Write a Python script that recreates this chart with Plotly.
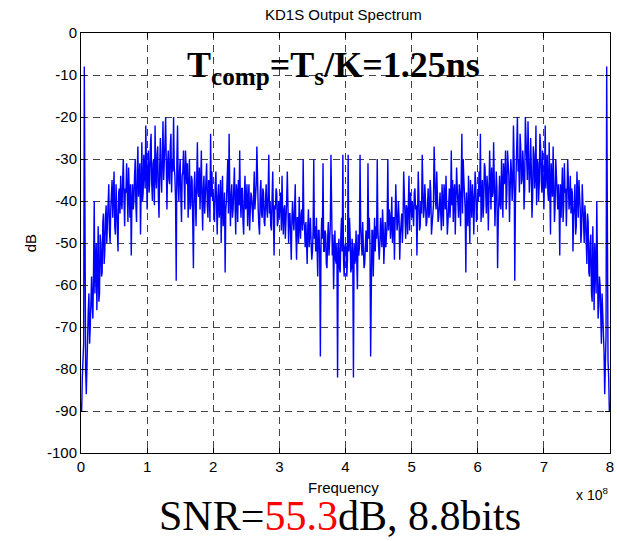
import plotly.graph_objects as go

# Spectrum values (dB), bins spaced 1e6 Hz apart (0 .. 8e8 Hz)
freq_step_hz = 1e6

db_0_to_2 = [
    -88, -90, -82, -78, -74, -8, -72, -80, -86, -76, -72, -66, -62, -74, -70, -60, -58, -65, -68, -56,
    -40, -62, -58, -50, -66, -55, -46, -64, -62, -48, -50, -58, -57, -45, -43, -55, -52, -44, -41, -50,
    -45, -39, -36, -47, -50, -42, -38, -35, -44, -40, -33, -46, -48, -36, -40, -44, -52, -38, -37, -43,
    -34, -40, -42, -35, -30, -39, -46, -37, -38, -31, -41, -45, -32, -38, -44, -36, -53, -40, -36, -42,
    -40, -34, -30, -41, -45, -33, -27, -39, -36, -31, -48, -35, -26, -40, -38, -29, -33, -37, -22, -35,
    -42, -33, -28, -38, -35, -27, -24, -36, -40, -31, -30, -41, -22, -34, -37, -29, -27, -39, -44, -32,
    -25, -34, -38, -29, -21, -35, -32, -26, -20, -37, -42, -31, -28, -35, -36, -27, -24, -38, -30, -33,
    -20, -32, -34, -40, -59, -30, -22, -36, -40, -33, -30, -39, -45, -34, -33, -28, -38, -42, -28, -35,
    -36, -31, -44, -38, -30, -42, -41, -34, -35, -45, -56, -37, -33, -40, -46, -35, -26, -38, -39, -32,
    -42, -36, -28, -40, -47, -37, -34, -43, -38, -32, -31, -41, -44, -35, -36, -45, -24, -39, -33, -40,
]
db_2_to_4 = [
    -38, -43, -45, -36, -33, -41, -48, -39, -36, -44, -42, -35, -50, -40, -34, -46, -44, -38, -57, -42,
    -40, -35, -30, -43, -24, -38, -46, -39, -36, -44, -42, -37, -32, -41, -48, -36, -38, -45, -35, -41,
    -28, -40, -44, -37, -37, -45, -48, -39, -34, -42, -41, -36, -46, -40, -36, -47, -43, -38, -39, -44,
    -45, -39, -33, -42, -40, -36, -27, -41, -42, -46, -48, -38, -35, -43, -44, -37, -38, -45, -46, -40,
    -36, -42, -44, -38, -29, -43, -40, -46, -47, -39, -33, -44, -53, -41, -42, -37, -38, -46, -45, -40,
    -44, -40, -38, -47, -34, -43, -48, -42, -41, -49, -46, -40, -33, -45, -50, -43, -43, -48, -54, -44,
    -40, -45, -47, -42, -36, -48, -54, -44, -44, -50, -39, -46, -49, -43, -42, -47, -30, -45, -46, -51,
    -45, -49, -55, -46, -42, -51, -48, -44, -50, -54, -52, -47, -30, -49, -46, -52, -44, -50, -58, -47,
    -47, -53, -77, -50, -44, -49, -31, -52, -52, -47, -48, -55, -56, -49, -45, -53, -50, -46, -29, -51,
    -53, -48, -61, -52, -47, -54, -55, -50, -82, -53, -49, -56, -57, -48, -44, -52, -29, -54, -58, -51,
]
db_center = [-50]
db_4_to_6 = [
    -51, -58, -54, -29, -52, -44, -48, -57, -56, -49, -53, -82, -50, -55, -54, -47, -52, -61, -48, -53,
    -51, -29, -46, -50, -53, -45, -49, -56, -55, -48, -47, -52, -52, -31, -49, -44, -50, -77, -53, -47,
    -47, -58, -50, -44, -52, -46, -49, -30, -47, -52, -54, -50, -44, -48, -51, -42, -46, -55, -49, -45,
    -51, -46, -45, -30, -47, -42, -43, -49, -46, -39, -50, -44, -44, -54, -48, -36, -42, -47, -45, -40,
    -44, -54, -48, -43, -43, -50, -45, -33, -40, -46, -49, -41, -42, -48, -43, -34, -47, -38, -40, -44,
    -40, -45, -46, -38, -37, -42, -41, -53, -44, -33, -39, -47, -46, -40, -43, -29, -38, -44, -42, -36,
    -40, -46, -45, -38, -37, -44, -43, -35, -38, -48, -46, -42, -41, -27, -36, -40, -42, -33, -39, -45,
    -44, -39, -38, -43, -47, -36, -40, -46, -36, -41, -42, -34, -39, -48, -45, -37, -37, -44, -40, -28,
    -41, -35, -45, -38, -36, -48, -41, -32, -37, -42, -44, -36, -39, -46, -38, -24, -43, -30, -35, -40,
    -42, -57, -38, -44, -46, -34, -40, -50, -35, -42, -44, -36, -39, -48, -41, -33, -36, -45, -43, -38,
]
db_6_to_8 = [
    -40, -33, -39, -24, -45, -36, -35, -44, -41, -31, -32, -38, -43, -34, -37, -47, -40, -28, -36, -42,
    -32, -39, -38, -26, -35, -46, -40, -33, -37, -56, -45, -35, -34, -41, -42, -30, -38, -44, -31, -36,
    -35, -28, -42, -38, -28, -33, -34, -45, -39, -30, -33, -40, -36, -22, -30, -59, -40, -34, -32, -20,
    -33, -30, -38, -24, -27, -36, -35, -28, -31, -42, -37, -20, -26, -32, -35, -21, -29, -38, -34, -25,
    -32, -44, -39, -27, -29, -37, -34, -22, -41, -30, -31, -40, -36, -24, -27, -35, -38, -28, -33, -42,
    -35, -22, -37, -33, -29, -38, -40, -26, -35, -48, -31, -36, -39, -27, -33, -45, -41, -30, -34, -40,
    -42, -36, -40, -53, -36, -44, -38, -32, -45, -41, -31, -38, -37, -46, -39, -30, -35, -42, -40, -34,
    -43, -37, -38, -52, -44, -40, -36, -48, -46, -33, -40, -44, -35, -38, -42, -50, -47, -36, -39, -45,
    -50, -41, -44, -52, -55, -43, -45, -57, -58, -50, -48, -62, -64, -46, -55, -66, -50, -58, -62, -40,
    -56, -68, -65, -58, -60, -70, -74, -62, -66, -72, -76, -86, -80, -72, -8, -74, -78, -82, -90, -88,
]

db_values = db_0_to_2 + db_2_to_4 + db_center + db_4_to_6 + db_6_to_8
freq_hz = [i * freq_step_hz for i in range(len(db_values))]

x_tick_vals = [0, 1e8, 2e8, 3e8, 4e8, 5e8, 6e8, 7e8, 8e8]
x_tick_text = ["0", "1", "2", "3", "4", "5", "6", "7", "8"]
y_tick_vals = [0, -10, -20, -30, -40, -50, -60, -70, -80, -90, -100]
y_tick_text = ["0", "-10", "-20", "-30", "-40", "-50", "-60", "-70", "-80", "-90", "-100"]

title_text = "KD1S Output Spectrum"
x_label = "Frequency"
y_label = "dB"
x_exp_text = "x 10<sup>8</sup>"
tcomp_text = "<b>T<sub>comp</sub>=T<sub>s</sub>/K=1.25ns</b>"
snr_text = "SNR=<span style='color:#ff0000'>55.3</span>dB, 8.8bits"

sans = "Liberation Sans, Arial, Helvetica, sans-serif"
serif = "Liberation Serif, Times New Roman, serif"

fig = go.Figure()
fig.add_trace(go.Scatter(
    x=freq_hz, y=db_values, mode="lines",
    line=dict(color="#0000ff", width=1.4),
    hoverinfo="skip", showlegend=False,
))

axis_common = dict(
    showline=True, linecolor="black", linewidth=1, mirror="allticks",
    ticks="inside", ticklen=5, tickcolor="black",
    showgrid=True, gridcolor="#444444", gridwidth=1, griddash="7px,5px",
    zeroline=False, ticklabeloverflow="allow",
    tickfont=dict(family=sans, size=15, color="black"),
)

fig.update_layout(
    width=617, height=541,
    margin=dict(l=81, r=3, t=33, b=88),
    paper_bgcolor="white", plot_bgcolor="white",
    xaxis=dict(range=[0, 8e8], tickvals=x_tick_vals, ticktext=x_tick_text, **axis_common),
    yaxis=dict(range=[-100, 0], tickvals=y_tick_vals, ticktext=y_tick_text, **axis_common),
    annotations=[
        dict(text=title_text, x=0.497, y=1.043, xref="paper", yref="paper",
             xanchor="center", yanchor="middle", showarrow=False,
             font=dict(family=sans, size=15, color="black")),
        dict(text=x_label, x=0.497, y=-0.081, xref="paper", yref="paper",
             xanchor="center", yanchor="middle", showarrow=False,
             font=dict(family=sans, size=15, color="black")),
        dict(text=y_label, x=-0.0957, y=0.5, xref="paper", yref="paper",
             xanchor="center", yanchor="middle", showarrow=False, textangle=-90,
             font=dict(family=sans, size=15, color="black")),
        dict(text=x_exp_text, x=0.966, y=-0.097, xref="paper", yref="paper",
             xanchor="center", yanchor="middle", showarrow=False,
             font=dict(family=sans, size=14, color="black")),
        dict(text=tcomp_text, x=0.478, y=0.917, xref="paper", yref="paper",
             xanchor="center", yanchor="middle", showarrow=False,
             font=dict(family=serif, size=36, color="black")),
        dict(text=snr_text, x=0.49, y=-0.15, xref="paper", yref="paper",
             xanchor="center", yanchor="middle", showarrow=False,
             font=dict(family=serif, size=42, color="black")),
    ],
)

fig.write_html("out.html", config={"displayModeBar": False},
               post_script="document.body.style.margin='0';")
